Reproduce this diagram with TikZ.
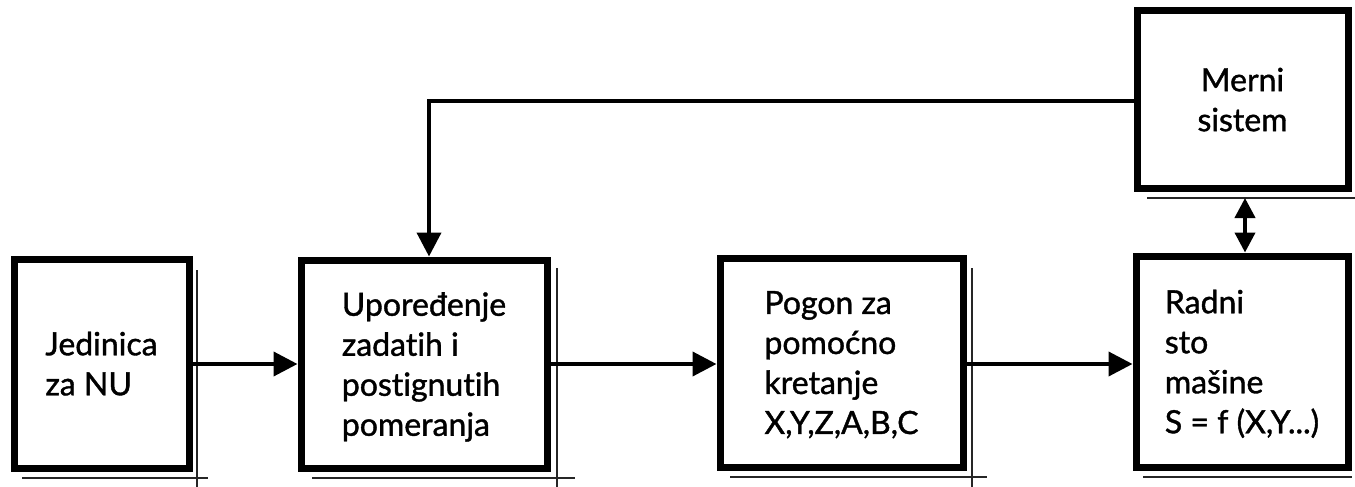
\documentclass[tikz,border=0pt]{standalone}
\usepackage{fontspec}
\setmainfont{Lato}[Ligatures=NoCommon,FakeBold=1.2]
\usetikzlibrary{arrows.meta}
\begin{document}
\begin{tikzpicture}[x=1pt,y=-1pt,
  blk/.style={draw=black,line width=7pt,fill=white,inner sep=0pt,
    font=\fontsize{32pt}{40pt}\selectfont,text depth=0pt},
  shad/.style={draw=black!85,line width=2pt},
  arr/.style={draw=black,line width=4pt,-{Triangle[length=24pt,width=24pt]}},
  darr/.style={draw=black,line width=4pt,{Triangle[length=20pt,width=20pt]}-{Triangle[length=20pt,width=20pt]}}]
\useasboundingbox (0,0) rectangle (1355,487);
% shadow lines
\draw[shad] (197,270) -- (197,487) (22,478) -- (208,478);
\draw[shad] (557,268) -- (557,487) (312,478) -- (575,478);
\draw[shad] (972,268) -- (972,487) (730,477) -- (987,477);
\draw[shad] (1143,477) -- (1352,477);
\draw[shad] (1147,198) -- (1355,198);
% boxes
\node[blk,minimum width=175pt,minimum height=209pt,align=left] (b1) at (101.5,363.5) {Jedinica\\za NU};
\node[blk,minimum width=246pt,minimum height=208pt,align=left] (b2) at (424,364) {Upoređenje\\zadatih i\\postignutih\\pomeranja};
\node[blk,minimum width=243pt,minimum height=209pt,align=left] (b3) at (841.5,362.5) {Pogon za\\pomoćno\\kretanje\\X,Y,Z,A,B,C};
\node[blk,minimum width=212pt,minimum height=211pt,align=left] (b4) at (1242,361.5) {Radni\\sto\\mašine\\S = f (X,Y...)};
\node[blk,minimum width=211pt,minimum height=177pt,align=center] (b5) at (1242.5,99.5) {Merni\\sistem};
% connectors
\coordinate (fb) at (429,101);
\coordinate (m5) at (1245,198);
\draw[arr] (b1.east |- 0,364) -- (b2.west |- 0,364);
\draw[arr] (b2.east |- 0,364) -- (b3.west |- 0,364);
\draw[arr] (b3.east |- 0,364) -- (b4.west |- 0,364);
\draw[arr] (b5.west |- fb) -- (fb) -- (fb |- b2.north);
\draw[darr] (m5) -- (m5 |- b4.north);
\end{tikzpicture}
\end{document}
